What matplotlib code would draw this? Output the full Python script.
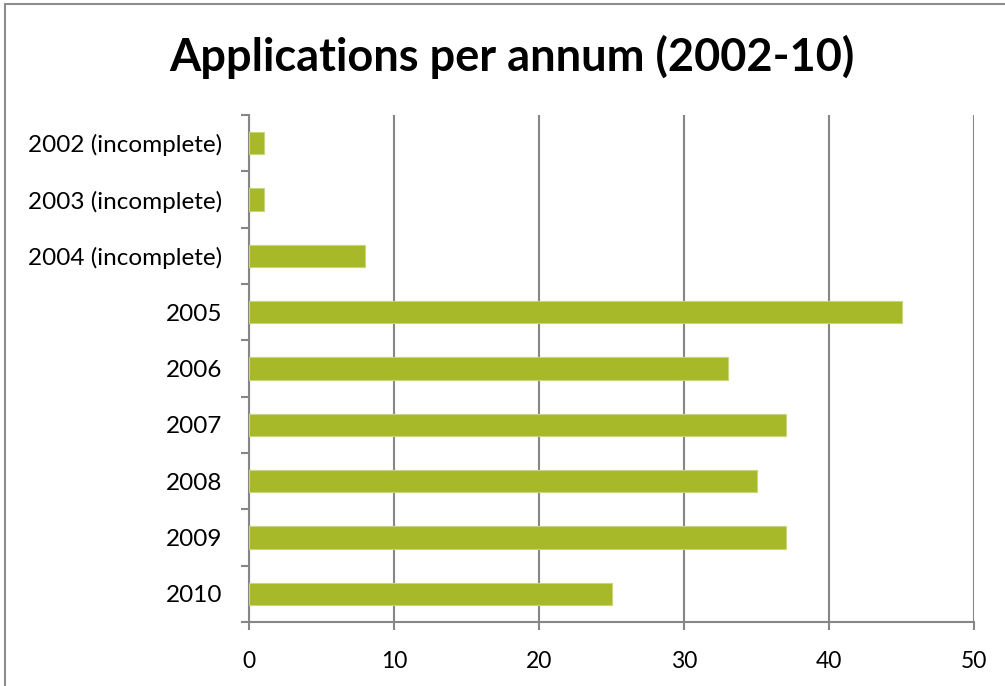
import matplotlib
matplotlib.use("Agg")
import matplotlib.pyplot as plt
from matplotlib.patches import Rectangle
import numpy as np

categories = ["2002 (incomplete)", "2003 (incomplete)", "2004 (incomplete)",
              "2005", "2006", "2007", "2008", "2009", "2010"]
values = [1, 1, 8, 45, 33, 37, 35, 37, 25]
xticks = [0, 10, 20, 30, 40, 50]

plt.rcParams['font.family'] = ['Lato', 'DejaVu Sans']

fig = plt.figure(figsize=(10.05, 6.86), dpi=100)
ax = fig.add_axes([249/1005, 1-622/686, (974-249)/1005, (622-115)/686])

grid_c = "#868686"
bar_c = "#A7B829"

y = np.arange(len(categories))
ax.barh(y, values, height=0.4, color=bar_c, edgecolor="#c9d57a", linewidth=0.8, zorder=3)
ax.set_ylim(len(categories) - 0.5, -0.5)
ax.set_xlim(0, 50)
ax.set_xticks(xticks)
ax.set_xticklabels([str(v) for v in xticks], fontsize=16.5)
ax.set_yticks(y)
ax.set_yticklabels(categories, fontsize=17.5)
ax.set_yticks(np.arange(-0.5, len(categories), 1), minor=True)
ax.tick_params(axis='y', which='major', length=0, pad=19.5)
ax.tick_params(axis='y', which='minor', length=6, color=grid_c, width=1.5, direction='out')
ax.tick_params(axis='x', which='major', length=6, color=grid_c, width=1.5, direction='out', pad=15)

ax.grid(axis='x', color=grid_c, linewidth=1.5, zorder=0)
for s in ['top', 'right']:
    ax.spines[s].set_visible(False)
for s in ['left', 'bottom']:
    ax.spines[s].set_color(grid_c)
    ax.spines[s].set_linewidth(1.5)
ax.set_axisbelow(True)

fig.text(512/1005, 1-57/686, "Applications per annum (2002-10)", ha='center', va='center',
         fontsize=32.5, fontweight='bold')

fig.patches.append(Rectangle((5/1005, -0.1), 1.2, 1 - 4/686 + 0.1, transform=fig.transFigure,
                             fill=False, edgecolor="#8c8c8c", linewidth=1.5))

fig.savefig("out.png", dpi=100, facecolor="white")
